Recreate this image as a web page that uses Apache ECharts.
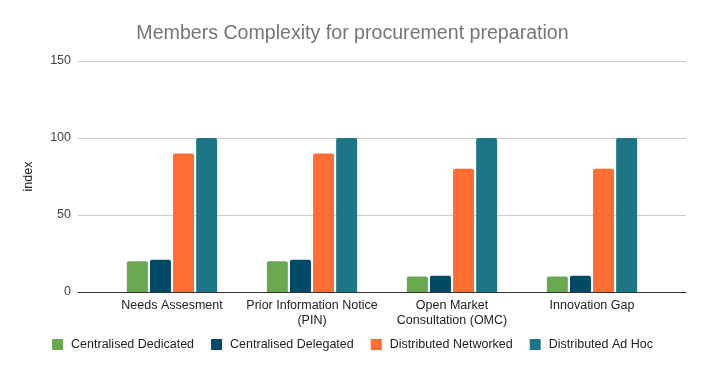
<!DOCTYPE html>
<html>
<head>
<meta charset="utf-8">
<script src="https://cdn.jsdelivr.net/npm/echarts@6/dist/echarts.min.js"></script>
<style>html,body{margin:0;padding:0;background:#fff}#c{width:705px;height:371px}</style>
</head>
<body>
<div id="c"></div>
<script>
const categories = ['Needs Assesment', 'Prior Information Notice\n(PIN)', 'Open Market\nConsultation (OMC)', 'Innovation Gap'];
const seriesNames = ['Centralised Dedicated', 'Centralised Delegated', 'Distributed Networked', 'Distributed Ad Hoc'];
const centralisedDedicated = [20, 20, 10, 10];
const centralisedDelegated = [21, 21, 10.5, 10.5];
const distributedNetworked = [90, 90, 80, 80];
const distributedAdHoc = [100, 100, 100, 100];
const yTicks = [0, 50, 100, 150];
const colors = ['#6aa84f', '#014a66', '#ff6d31', '#1d7686'];

const FONT = 'Liberation Sans, Arial, sans-serif';
const chart = echarts.init(document.getElementById('c'));
const values = [centralisedDedicated, centralisedDelegated, distributedNetworked, distributedAdHoc];

chart.setOption({
  animation: false,
  textStyle: { fontFamily: FONT },
  title: {
    text: 'Members Complexity for procurement preparation',
    left: 'center',
    top: 19,
    textStyle: { fontSize: 19.6, fontWeight: 'normal', color: '#757575', fontFamily: FONT }
  },
  legend: {
    bottom: 15,
    left: 'center',
    itemWidth: 11,
    itemHeight: 11,
    itemGap: 17,
    icon: 'rect',
    data: seriesNames,
    textStyle: { fontSize: 12.5, color: '#222', fontFamily: FONT, padding: [0, 0, 0, 3] }
  },
  grid: [
    { left: 78, right: 19, top: 61, bottom: 79 },
    { left: 102, width: 560, top: 61, bottom: 79 }
  ],
  xAxis: [
    {
      type: 'category', gridIndex: 0, data: categories,
      axisLine: { show: true, lineStyle: { color: '#333', width: 1 } },
      axisTick: { show: false }, axisLabel: { show: false }
    },
    {
      type: 'category', gridIndex: 1, data: categories,
      axisLine: { show: false }, axisTick: { show: false },
      axisLabel: { fontSize: 12.5, color: '#222', margin: 6, lineHeight: 15, fontFamily: FONT, interval: 0 }
    }
  ],
  yAxis: [
    {
      type: 'value', gridIndex: 0, min: yTicks[0], max: yTicks[yTicks.length - 1], interval: 50,
      name: 'index', nameLocation: 'middle', nameRotate: 90, nameGap: 43,
      nameTextStyle: { fontSize: 12.5, color: '#222', fontFamily: FONT },
      axisLine: { show: false }, axisTick: { show: false },
      axisLabel: { fontSize: 12.5, color: '#444', margin: 7, fontFamily: FONT },
      splitLine: { lineStyle: { color: '#cccccc', width: 1 } }
    },
    {
      type: 'value', gridIndex: 1, min: yTicks[0], max: yTicks[yTicks.length - 1], interval: 50,
      show: false, splitLine: { show: false }
    }
  ],
  series: seriesNames.map((n, i) => ({
    name: n,
    type: 'bar',
    xAxisIndex: 1,
    yAxisIndex: 1,
    data: values[i],
    barWidth: 21,
    barGap: '10%',
    itemStyle: { color: colors[i], borderRadius: [2, 2, 0, 0] }
  }))
});
</script>
</body>
</html>
